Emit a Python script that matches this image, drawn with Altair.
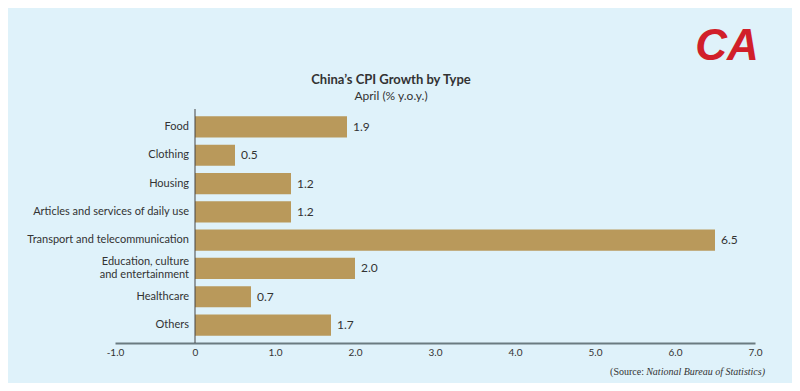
import altair as alt
import pandas as pd

categories = [
    "Food",
    "Clothing",
    "Housing",
    "Articles and services of daily use",
    "Transport and telecommunication",
    "Education, culture|and entertainment",
    "Healthcare",
    "Others",
]
values = [1.9, 0.5, 1.2, 1.2, 6.5, 2.0, 0.7, 1.7]
x_ticks = [-1, 0, 1, 2, 3, 4, 5, 6, 7]

df = pd.DataFrame({"cat": categories, "val": values})
df["lbl"] = [f"{v:.1f}" for v in values]

BG = "#dff2fa"
BAR = "#b9995b"
FONT = "Lato"

y_enc = alt.Y(
    "cat:N",
    sort=categories,
    title=None,
    scale=alt.Scale(paddingInner=0.25, paddingOuter=0.26),
    axis=None,
)

x_scale = alt.Scale(domain=[-1, 7], nice=False)

bars = alt.Chart(df).mark_bar(color=BAR).encode(
    x=alt.X(
        "val:Q",
        scale=x_scale,
        title=None,
        axis=alt.Axis(
            values=x_ticks,
            labelExpr="datum.value == 0 ? '0' : replace(format(datum.value, '.1f'), '\u2212', '-')",
            grid=False,
            ticks=False,
            labelFlush=False,
            domainColor="#6b7b80",
            domainWidth=2,
            labelFontSize=10,
            labelColor="#333333",
            labelFont=FONT,
            labelPadding=4,
        ),
    ),
    y=y_enc,
)

ylab_base = alt.Chart(df)
ylabels_single = ylab_base.transform_filter("indexof(datum.cat, '|') < 0").mark_text(
    align="right", baseline="middle", fontSize=11, color="#333333", font=FONT,
).encode(x=alt.value(74), y=alt.Y("cat:N", sort=categories), text="cat:N")

ylabels_multi = ylab_base.transform_filter("indexof(datum.cat, '|') >= 0").mark_text(
    align="right", baseline="middle", fontSize=11, color="#333333", font=FONT,
    lineBreak="|", lineHeight=12.5, dy=-6,
).encode(x=alt.value(74), y=alt.Y("cat:N", sort=categories), text="cat:N")

labels = alt.Chart(df).mark_text(
    align="left", baseline="middle", dx=6, fontSize=12, color="#333333", font=FONT
).encode(x=alt.X("val:Q", scale=x_scale), y=alt.Y("cat:N", sort=categories), text="lbl:N")

zero = alt.Chart(pd.DataFrame({"z": [0]})).mark_rule(color="#444444", strokeWidth=1).encode(
    x=alt.X("z:Q", scale=x_scale)
)

title = alt.Chart(pd.DataFrame({"t": ["China\u2019s CPI Growth by Type"]})).mark_text(
    fontSize=13, fontWeight="bold", color="#333333", font=FONT, align="center"
).encode(x=alt.value(276), y=alt.value(-29), text="t:N")

subtitle = alt.Chart(pd.DataFrame({"t": ["April (% y.o.y.)"]})).mark_text(
    fontSize=12, color="#333333", font=FONT, align="center"
).encode(x=alt.value(276), y=alt.value(-13), text="t:N")

source_a = alt.Chart(pd.DataFrame({"t": ["National Bureau of Statistics)"]})).mark_text(
    fontSize=10, fontStyle="italic", color="#333333", font="Liberation Serif", align="right"
).encode(x=alt.value(650), y=alt.value(263), text="t:N")

source_b = alt.Chart(pd.DataFrame({"t": ["(Source:"]})).mark_text(
    fontSize=10, color="#333333", font="Liberation Serif", align="right"
).encode(x=alt.value(529), y=alt.value(263), text="t:N")

logo = alt.Chart(pd.DataFrame({"t": ["CA"]})).mark_text(
    fontSize=44, fontWeight="bold", fontStyle="italic", color="#d11f2a", font="Liberation Sans", align="center"
).encode(x=alt.value(612), y=alt.value(-62), text="t:N")

chart = (
    alt.layer(bars, zero, ylabels_single, ylabels_multi, labels, title, subtitle, source_a, source_b, logo)
    .properties(
        width=640,
        height=234,
        background=BG,
        padding={"left": 107, "top": 101, "right": 37, "bottom": 40},
        autosize=alt.AutoSizeParams(type="none"),
    )
    .configure_view(stroke=None)
)

chart.save("out.html", embed_options={"renderer": "svg", "actions": False})
